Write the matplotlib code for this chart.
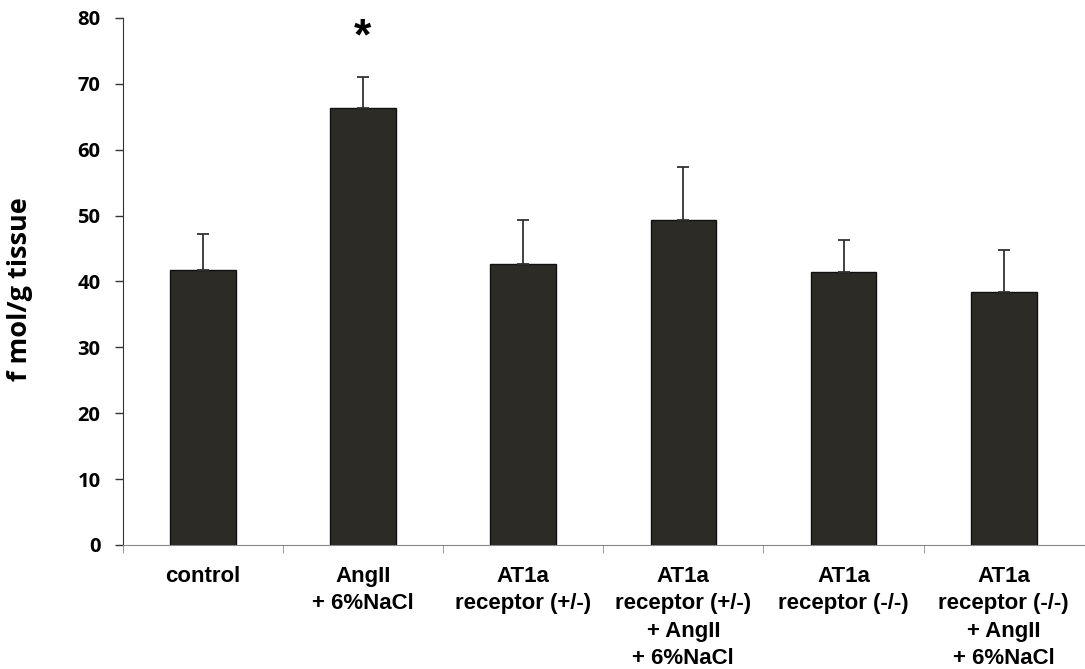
import numpy as np
import matplotlib
matplotlib.use("Agg")
import matplotlib.pyplot as plt
from matplotlib.ticker import FixedLocator

# data
groups = ["control", "AngII\n+ 6%NaCl", "AT1a\nreceptor (+/-)",
          "AT1a\nreceptor (+/-)\n+ AngII\n+ 6%NaCl", "AT1a\nreceptor (-/-)",
          "AT1a\nreceptor (-/-)\n+ AngII\n+ 6%NaCl"]
means = [41.7, 66.4, 42.6, 49.4, 41.5, 38.4]
sem = [5.5, 4.6, 6.8, 8.0, 4.8, 6.4]
y_ticks = [0, 10, 20, 30, 40, 50, 60, 70, 80]

plt.rcParams['font.family'] = ['Liberation Sans', 'DejaVu Sans']

fig = plt.figure(figsize=(10.85, 6.69), dpi=100)
ax = fig.add_axes([0.113, 0.1854, 0.886, 0.7877])

x = np.arange(len(groups))
ax.bar(x, means, width=0.41, color="#2d2b26", edgecolor="#111111", linewidth=1.0, zorder=2)
ax.errorbar(x, means, yerr=[np.zeros(len(sem)), sem], fmt="none",
            ecolor="#333333", elinewidth=1.3, capsize=4, capthick=1.3, zorder=3)

# significance marker
ax.text(x[1], means[1] + sem[1] + 6.0, "*", ha="center", va="center",
        fontsize=32, fontweight="bold")

ax.set_xlim(-0.5, 5.5)
ax.set_ylim(0, 80)
ax.set_yticks(y_ticks)
ax.set_yticklabels([str(t) for t in y_ticks], fontsize=14.5, fontweight="bold",
                   family=['Open Sans', 'Liberation Sans'])
ax.set_xticks(x)
ax.set_xticklabels(groups, fontsize=16, fontweight="bold", linespacing=1.4)
ax.tick_params(axis="x", which="major", length=0, pad=15)
ax.xaxis.set_minor_locator(FixedLocator(np.arange(-0.5, 5.0, 1.0)))
ax.tick_params(axis="x", which="minor", length=6, color="#888888")
ax.tick_params(axis="y", length=6, width=1, color="#333333", pad=10)

ax.spines["top"].set_visible(False)
ax.spines["right"].set_visible(False)
ax.spines["bottom"].set_color("#888888")
ax.spines["left"].set_color("#333333")

ax.set_ylabel("f mol/g tissue", fontsize=19.5, fontweight="bold",
              family=['Open Sans', 'Liberation Sans'])
ax.yaxis.set_label_coords(-0.093, 0.485)

fig.savefig("out.png", dpi=100)
